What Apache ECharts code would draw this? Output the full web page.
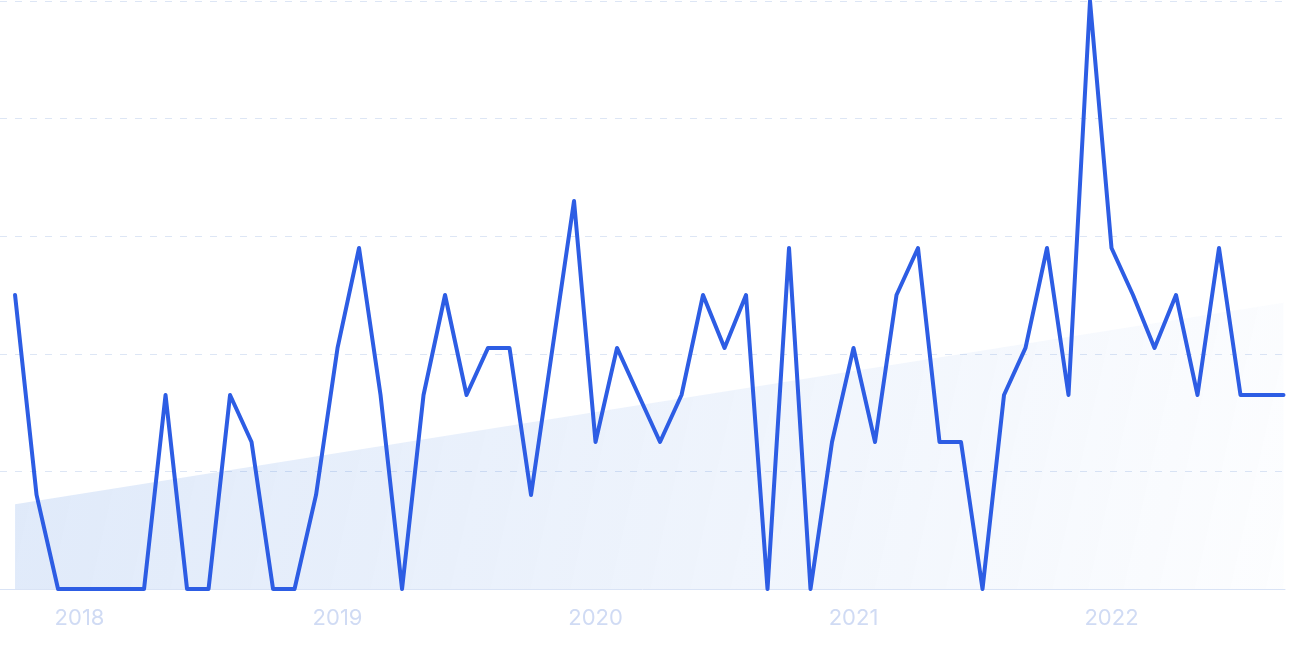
<!DOCTYPE html>
<html>
<head>
<meta charset="utf-8">
<script src="https://cdn.jsdelivr.net/npm/echarts@6/dist/echarts.min.js"></script>
<style>
html,body{margin:0;padding:0;background:#fff;}
#c{width:1290px;height:645px;}
</style>
</head>
<body>
<div id="c"></div>
<script>
// Monthly points from 2017-10 to 2022-09
var months = [
 '2017-10','2017-11','2017-12',
 '2018-01','2018-02','2018-03','2018-04','2018-05','2018-06','2018-07','2018-08','2018-09','2018-10','2018-11','2018-12',
 '2019-01','2019-02','2019-03','2019-04','2019-05','2019-06','2019-07','2019-08','2019-09','2019-10','2019-11','2019-12',
 '2020-01','2020-02','2020-03','2020-04','2020-05','2020-06','2020-07','2020-08','2020-09','2020-10','2020-11','2020-12',
 '2021-01','2021-02','2021-03','2021-04','2021-05','2021-06','2021-07','2021-08','2021-09','2021-10','2021-11','2021-12',
 '2022-01','2022-02','2022-03','2022-04','2022-05','2022-06','2022-07','2022-08','2022-09'
];
var values = [
 50,16,0,
 0,0,0,0,33,0,0,33,25,0,0,16,
 41,58,33,0,33,50,33,41,41,16,41,66,
 25,41,33,25,33,50,41,50,0,58,0,25,
 41,25,50,58,25,25,0,33,41,58,33,100,
 58,50,41,50,33,58,33,33,33
];
var yearLabels = ['2018','2019','2020','2021','2022'];
var yearIndex = [3,15,27,39,51];
var trendValues = [14.4, 48.7];

var chart = echarts.init(document.getElementById('c'), null, {renderer:'canvas'});
var lineData = values.map(function(v,i){return [i,v];});
var trendData = [[0, trendValues[0]], [months.length-1, trendValues[1]]];

chart.setOption({
  animation:false,
  grid:{left:0,right:5,top:1,bottom:56,containLabel:false},
  xAxis:{
    type:'value',
    min:-0.7,
    max:59.07,
    splitLine:{show:false},
    axisTick:{show:false},
    axisLine:{show:true,lineStyle:{color:'#d9e3f5',width:1}},
    axisLabel:{
      customValues:yearIndex,
      margin:18,
      color:'#d0dbf4',
      fontSize:22,
      fontFamily:'Inter',
      formatter:function(v){var k=yearIndex.indexOf(Math.round(v));return k>=0?yearLabels[k]:'';}
    }
  },
  yAxis:{
    type:'value',
    min:0,max:100,interval:20,
    axisLabel:{show:false},
    axisTick:{show:false},
    axisLine:{show:false},
    splitLine:{show:true,lineStyle:{color:'#dde6f5',type:[7,8],width:1}}
  },
  series:[
    {
      type:'line',
      data:trendData,
      symbol:'none',
      lineStyle:{width:0},
      areaStyle:{
        color:new echarts.graphic.LinearGradient(0,0,1,1,[
          {offset:0,color:'rgba(40,110,220,0.15)'},
          {offset:0.6,color:'rgba(40,110,220,0.07)'},
          {offset:1,color:'rgba(40,110,220,0.01)'}
        ]),
        opacity:1
      },
      z:1,
      silent:true
    },
    {
      type:'line',
      data:lineData,
      symbol:'none',
      lineStyle:{color:'#2d5de4',width:4,join:'round',cap:'round'},
      z:3
    }
  ]
});
</script>
</body>
</html>
